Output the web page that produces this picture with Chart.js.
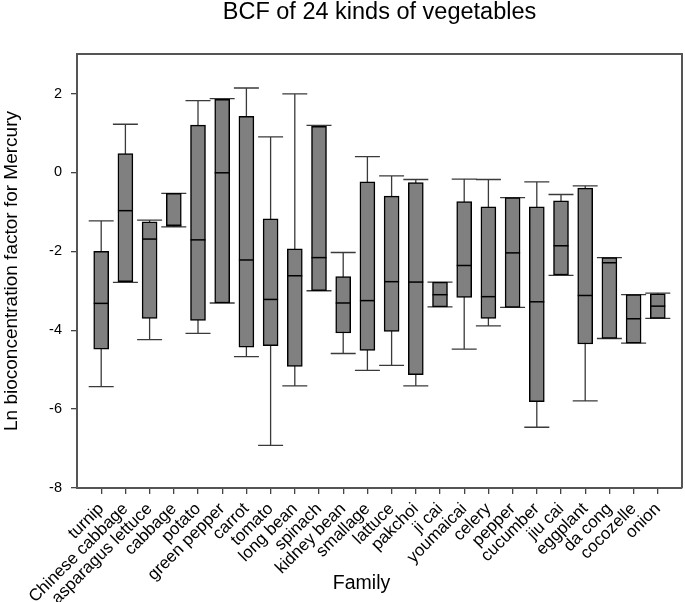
<!DOCTYPE html>
<html>
<head>
<meta charset="utf-8">
<script src="https://cdn.jsdelivr.net/npm/chart.js@4.4.1/dist/chart.umd.min.js"></script>
<style>
  body { margin: 0; background: #fff; }
  #wrap { width: 685px; height: 602px; }
</style>
</head>
<body>
<div id="wrap"><canvas id="bcfChart"></canvas></div>
<script>
const categories = ["turnip", "Chinese cabbage", "asparagus lettuce", "cabbage", "potato",
  "green pepper", "carrot", "tomato", "long bean", "spinach", "kidney bean", "smallage",
  "lattuce", "pakchoi", "ji cai", "youmaicai", "celery", "pepper", "cucumber", "jiu cai",
  "eggplant", "da cong", "cocozelle", "onion"];

// five-number summaries (Ln BCF)
const whiskerLow = [-5.43, -2.79, -4.24, -1.38, -4.08, -3.31, -4.67, -6.92, -5.41, -3.00, -4.59, -5.02,
  -4.89, -5.41, -3.41, -4.48, -3.89, -3.42, -6.46, -2.61, -5.79, -4.21, -4.33, -3.70];
const q1 = [-4.48, -2.77, -3.70, -1.37, -3.75, -3.31, -4.43, -4.39, -4.92, -3.00, -4.07, -4.51,
  -4.03, -5.13, -3.41, -3.17, -3.70, -3.42, -5.81, -2.60, -4.35, -4.21, -4.33, -3.70];
const median = [-3.32, -0.97, -1.69, -1.34, -1.71, -0.01, -2.22, -3.22, -2.62, -2.16, -3.31, -3.25,
  -2.77, -2.78, -3.10, -2.36, -3.15, -2.04, -3.28, -1.86, -3.12, -2.29, -3.71, -3.39];
const q3 = [-2.00, 0.48, -1.25, -0.53, 1.20, 1.85, 1.42, -1.18, -1.94, 1.17, -2.64, -0.24,
  -0.60, -0.26, -2.78, -0.74, -0.87, -0.64, -0.87, -0.72, -0.40, -2.16, -3.10, -3.08];
const whiskerHigh = [-1.23, 1.22, -1.21, -0.53, 1.82, 1.87, 2.14, 0.90, 1.99, 1.19, -2.03, 0.40,
  -0.09, -0.18, -2.78, -0.17, -0.18, -0.64, -0.24, -0.56, -0.34, -2.16, -3.10, -3.06];
const yTicks = [-8, -6, -4, -2, 0, 2];

const FONT = "'Liberation Sans', Arial, sans-serif";

// whiskers under the boxes, medians and frame on top
const boxPlotExtras = {
  id: "boxPlotExtras",
  beforeDatasetsDraw(chart) {
    const { ctx, scales: { x, y } } = chart;
    ctx.save();
    ctx.strokeStyle = "#3a3a3a";
    ctx.lineWidth = 1.3;
    categories.forEach((c, i) => {
      const px = x.getPixelForValue(i);
      const lo = y.getPixelForValue(whiskerLow[i]);
      const hi = y.getPixelForValue(whiskerHigh[i]);
      ctx.beginPath();
      ctx.moveTo(px, lo); ctx.lineTo(px, hi);
      ctx.moveTo(px - 12.5, lo); ctx.lineTo(px + 12.5, lo);
      ctx.moveTo(px - 12.5, hi); ctx.lineTo(px + 12.5, hi);
      ctx.stroke();
    });
    ctx.restore();
  },
  afterDatasetsDraw(chart) {
    const { ctx, chartArea, scales: { x, y } } = chart;
    ctx.save();
    ctx.strokeStyle = "#000";
    ctx.lineWidth = 1.5;
    categories.forEach((c, i) => {
      const px = x.getPixelForValue(i);
      const m = y.getPixelForValue(median[i]);
      ctx.beginPath();
      ctx.moveTo(px - 7.5, m); ctx.lineTo(px + 7.5, m);
      ctx.stroke();
    });
    // top and right frame lines
    ctx.strokeStyle = "#555";
    ctx.lineWidth = 2;
    ctx.beginPath();
    ctx.moveTo(chartArea.left, chartArea.top);
    ctx.lineTo(chartArea.right, chartArea.top);
    ctx.lineTo(chartArea.right, chartArea.bottom);
    ctx.stroke();
    // x axis title
    ctx.fillStyle = "#000";
    ctx.font = "19.5px " + FONT;
    ctx.textAlign = "center";
    ctx.textBaseline = "alphabetic";
    ctx.fillText("Family", 361.5, 589);
    ctx.restore();
  }
};

const ctx = document.getElementById("bcfChart").getContext("2d");
new Chart(ctx, {
  type: "bar",
  data: {
    datasets: [
      {
        label: "BCF",
        data: categories.map((c, i) => ({ x: i, y: [q1[i], q3[i]] })),
        backgroundColor: "#808080",
        borderColor: "#000",
        borderWidth: 1.5,
        borderSkipped: false,
        barThickness: 15,
      },
    ],
  },
  options: {
    responsive: true,
    maintainAspectRatio: false,
    animation: false,
    layout: { padding: { right: 3, top: 0, bottom: 0, left: 0 } },
    plugins: {
      legend: { display: false },
      tooltip: { enabled: false },
      title: {
        display: true,
        text: "BCF of 24 kinds of vegetables",
        fullSize: false,
        color: "#000",
        font: { family: FONT, size: 23.5, weight: "normal", lineHeight: 1.1 },
        padding: { top: 0, bottom: 28.2 },
      },
    },
    scales: {
      x: {
        type: "linear",
        min: -1,
        max: categories.length,
        offset: false,
        afterBuildTicks: (scale) => {
          scale.ticks = categories.map((c, i) => ({ value: i }));
        },
        afterFit: (scale) => { scale.height = 114; },
        ticks: {
          autoSkip: false,
          minRotation: 45,
          maxRotation: 45,
          padding: 5,
          color: "#000",
          font: { family: FONT, size: 17 },
          callback: (v) => categories[v] ?? "",
        },
        grid: { drawOnChartArea: false, offset: false, tickLength: 6, color: "#444", lineWidth: 1.3 },
        border: { color: "#555", width: 2 },
      },
      y: {
        min: -8,
        max: 3,
        afterBuildTicks: (scale) => {
          scale.ticks = yTicks.map((v) => ({ value: v }));
        },
        afterFit: (scale) => { scale.width = 77; },
        ticks: {
          padding: 9,
          color: "#000",
          font: { family: FONT, size: 14.5 },
        },
        grid: { drawOnChartArea: false, tickLength: 6, color: "#444", lineWidth: 1.3 },
        border: { color: "#555", width: 2 },
        title: {
          display: true,
          text: "Ln bioconcentration factor for Mercury",
          color: "#000",
          font: { family: FONT, size: 19 },
          padding: 0,
        },
      },
    },
  },
  plugins: [boxPlotExtras],
});
</script>
</body>
</html>
